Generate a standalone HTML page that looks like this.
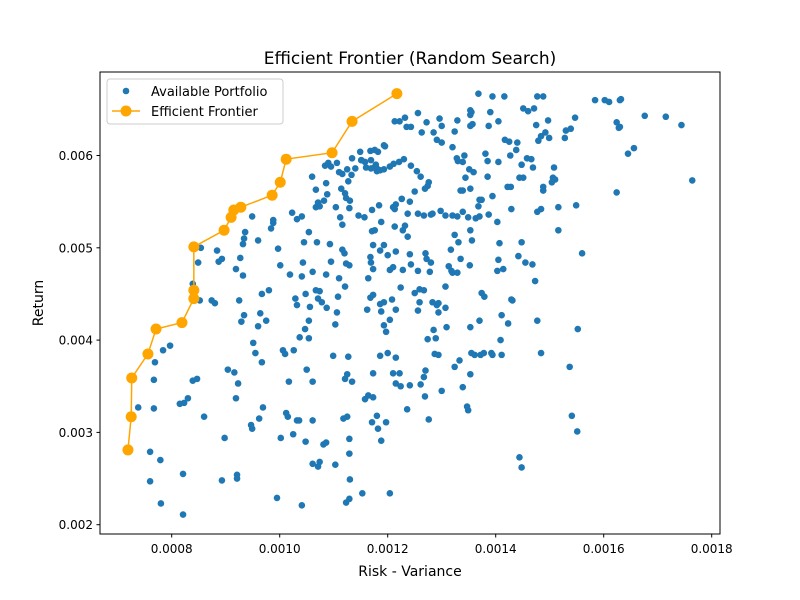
<!DOCTYPE html>
<html><head><meta charset="utf-8"><style>
body{margin:0;background:#fff;}
svg{display:block;font-family:"DejaVu Sans","Liberation Sans",sans-serif;}
</style></head><body>
<svg id="chart" width="800" height="600">
<rect width="800" height="600" fill="#fff"/>
<text x="410" y="64" text-anchor="middle" font-size="17">Efficient Frontier (Random Search)</text>
<text x="410" y="576" text-anchor="middle" font-size="14">Risk - Variance</text>
<text x="0" y="0" transform="translate(43,303) rotate(-90)" text-anchor="middle" font-size="14">Return</text>
<g id="xticks"></g>
<g id="yticks"></g>
<g id="points"></g>
<g id="frontier"></g>
<rect x="100" y="72" width="620" height="462" fill="none" stroke="#000" stroke-width="1"/>
<g>
<rect x="107" y="79" width="176" height="45" rx="3" fill="#fff" fill-opacity="0.8" stroke="#ccc"/>
<circle cx="126" cy="91" r="3.3" fill="#1f77b4"/>
<text x="151" y="96" font-size="13">Available Portfolio</text>
<line x1="112" y1="111" x2="140" y2="111" stroke="#ffa500" stroke-width="1.5"/>
<circle cx="126" cy="111" r="5.5" fill="#ffa500"/>
<text x="151" y="116" font-size="13">Efficient Frontier</text>
</g>
</svg>
<script>
// units: risk in 1e-4, return in 1e-3
const xTicks=[8,10,12,14,16,18];
const xTickLabels=["0.0008","0.0010","0.0012","0.0014","0.0016","0.0018"];
const yTicks=[2,3,4,5,6];
const yTickLabels=["0.002","0.003","0.004","0.005","0.006"];
const frontierRisk=[7.19,7.25,7.26,7.56,7.71,8.19,8.41,8.41,8.41,8.97,9.10,9.15,9.28,9.86,10.01,10.12,10.97,11.34,12.17];
const frontierReturn=[2.81,3.17,3.59,3.85,4.12,4.19,4.45,4.54,5.01,5.19,5.33,5.41,5.44,5.57,5.71,5.96,6.03,6.37,6.67];
const riskVals=[7.38,7.60,7.60,7.79,7.80,8.21,8.21,7.67,7.67,7.69,7.84,7.97,8.15,8.23,8.30,8.39,8.47,8.60,8.52,8.39,8.49,8.54,8.74,8.80,8.84,8.87,8.93,8.98,9.04,8.93,9.21,9.21,9.19,9.23,9.16,9.29,9.34,9.25,9.32,9.27,9.19,9.34,9.32,9.36,9.49,9.60,9.51,9.55,9.67,9.60,9.64,9.67,9.80,9.75,9.62,9.69,9.49,9.47,9.95,9.84,9.88,9.88,9.97,10.01,10.06,10.10,10.17,10.15,10.12,10.02,10.25,10.32,10.36,10.41,10.48,10.61,10.71,10.74,10.81,10.86,10.61,10.61,10.50,10.26,10.37,10.47,10.54,10.54,10.56,10.48,10.32,10.29,10.19,10.41,10.43,10.61,10.67,10.74,10.71,10.78,10.87,10.86,10.95,10.93,10.69,10.45,10.54,10.32,10.23,10.41,10.67,10.71,10.74,10.82,10.88,10.86,10.60,10.67,10.84,10.90,10.95,11.06,11.10,11.16,11.14,11.27,11.21,11.23,11.30,11.04,11.12,11.29,11.16,11.16,11.20,11.23,11.10,11.21,11.29,11.08,11.06,11.03,10.99,11.27,11.25,11.21,11.34,11.25,11.18,11.29,11.29,11.03,11.30,11.53,11.29,11.23,12.04,11.97,11.88,11.82,11.64,11.73,11.73,11.80,11.71,11.58,11.86,12.00,12.15,12.22,12.10,12.15,12.24,12.41,12.36,12.61,12.67,12.70,12.76,12.87,12.94,12.85,13.09,12.91,12.94,12.83,12.94,12.89,12.74,13.07,13.07,13.20,13.18,13.29,13.13,13.35,13.17,13.52,13.53,13.55,13.61,13.53,13.72,13.92,13.94,14.11,14.09,13.70,13.79,13.74,14.11,14.29,14.23,14.31,14.05,14.03,14.14,14.07,14.03,14.29,14.42,14.48,14.55,14.73,14.77,14.84,14.68,14.77,14.84,14.44,14.51,14.88,14.88,15.06,15.16,15.16,15.49,15.60,15.52,15.37,15.41,15.51,14.44,14.48,13.49,13.47,13.78,13.39,13.33,13.24,12.69,13.00,12.56,12.59,12.50,12.59,12.67,12.78,12.80,12.72,12.56,12.70,12.41,12.43,12.28,12.10,12.04,12.24,12.08,11.93,11.86,11.88,11.93,12.04,12.15,11.97,11.62,11.68,11.73,11.64,11.73,11.69,11.68,11.73,11.76,11.93,11.86,12.00,12.15,12.13,12.28,12.32,12.37,12.56,12.37,12.67,12.80,12.98,12.83,13.07,13.20,13.29,13.39,13.63,13.70,13.87,13.53,13.49,13.56,13.31,13.24,13.70,13.74,13.68,13.39,13.53,13.94,14.22,14.28,13.85,14.05,13.85,13.81,13.39,13.30,13.28,13.59,13.51,13.35,13.44,13.53,13.53,13.68,13.94,14.16,14.05,13.90,13.87,14.51,14.60,14.71,14.77,14.88,14.75,14.84,14.92,14.99,14.79,14.97,15.30,15.39,15.28,15.47,14.58,14.66,14.69,14.48,14.40,14.38,14.25,14.17,14.27,15.08,15.04,15.10,15.84,16.10,16.30,16.32,16.24,16.30,16.28,16.45,16.56,16.76,17.15,17.44,17.64,16.24,16.02,12.56,12.72,12.96,13.00,13.24,13.29,13.55,13.53,13.57,13.42,13.20,13.00,12.91,12.85,12.63,12.35,12.22,12.32,12.43,12.13,11.95,11.93,11.82,11.76,11.68,11.49,11.34,11.51,11.58,11.69,11.78,11.80,11.75,11.60,11.51,11.40,11.33,11.25,11.69,11.80,11.86,11.93,12.04,12.11,12.21,12.30,12.43,12.54,12.61,12.76,12.74,12.69,12.50,12.26,12.15,12.10,12.13,12.26,12.41,11.84,11.71,11.57,11.46,11.88,11.71,11.53,11.51];
const returnVals=[3.27,2.79,2.47,2.7,2.23,2.11,2.55,3.26,3.57,3.76,3.89,3.94,3.31,3.32,3.37,3.56,3.58,3.17,4.43,4.61,4.84,5.0,4.43,4.4,4.97,4.85,4.88,2.94,3.68,2.48,2.54,2.5,3.37,3.53,3.65,4.2,4.27,4.43,4.7,4.89,4.77,5.1,5.04,5.17,5.34,5.08,3.97,3.86,3.76,4.15,4.29,4.5,4.54,4.21,3.15,3.27,3.04,3.08,2.29,5.21,5.27,5.3,4.99,4.81,3.89,3.85,3.55,3.17,3.21,2.94,2.98,3.13,3.13,2.21,2.9,2.66,2.63,2.68,2.87,2.89,3.13,3.55,3.68,3.89,4.03,4.12,4.02,4.21,4.36,4.5,4.38,4.45,4.71,4.69,4.84,4.74,4.54,4.53,4.45,4.41,4.35,4.71,4.85,5.04,5.06,5.06,5.17,5.31,5.38,5.34,5.44,5.49,5.45,5.51,5.58,5.7,5.77,5.63,5.89,5.92,5.88,5.92,5.82,5.8,5.64,5.72,5.59,5.54,5.51,5.44,5.33,5.43,5.25,4.98,4.94,4.83,4.67,4.58,4.81,4.47,4.3,4.17,3.83,3.82,3.63,3.58,3.55,3.17,3.15,2.93,2.77,2.65,2.49,2.34,2.28,2.24,2.34,3.11,2.91,3.04,3.4,3.38,3.64,3.18,3.11,3.36,3.83,3.86,3.81,3.64,3.64,3.53,3.5,3.51,3.25,3.52,3.6,3.67,3.14,3.85,3.84,4.11,4.14,4.38,4.4,4.41,4.3,4.02,4.01,4.35,4.58,4.73,4.75,4.73,4.8,4.88,4.98,4.81,4.14,3.86,3.84,3.63,3.84,3.86,3.84,3.84,4.0,4.21,4.47,4.51,4.27,4.44,4.18,4.43,4.87,4.75,4.77,5.05,5.28,5.42,4.91,5.06,4.84,4.64,4.21,3.86,4.82,5.39,5.42,5.76,5.76,5.62,5.66,5.76,5.44,5.19,5.46,4.94,4.12,3.71,3.18,3.01,2.73,2.62,3.24,3.28,3.86,3.49,3.78,3.71,3.39,3.45,4.32,4.41,4.51,4.55,4.54,4.74,4.84,4.88,4.75,4.94,4.93,4.82,4.76,4.79,4.76,4.57,4.44,4.41,4.39,4.31,4.16,4.22,4.33,4.09,4.33,4.46,4.49,4.67,4.77,4.84,4.9,5.03,5.19,5.03,4.97,4.92,4.96,5.23,5.19,5.24,5.37,5.37,5.12,5.35,5.36,5.4,5.37,5.35,5.35,5.34,5.39,5.32,5.34,5.36,5.19,5.33,5.08,5.06,5.14,5.52,5.52,5.45,5.62,5.64,5.56,5.66,5.66,5.77,5.93,5.94,6.02,5.93,5.94,5.97,5.82,5.85,5.62,5.76,6.32,6.44,6.67,6.64,6.64,6.37,6.47,6.32,6.51,6.48,6.51,6.64,6.64,6.33,6.21,6.25,6.19,6.16,6.38,6.27,6.29,6.19,6.41,5.97,5.96,5.87,5.9,6.14,6.06,6.15,6.17,6.0,5.87,5.71,5.74,6.6,6.58,6.6,6.61,6.36,6.31,6.3,6.02,6.08,6.43,6.42,6.33,5.73,5.6,6.6,6.46,6.36,6.4,6.32,6.26,6.38,6.47,6.49,6.34,6.0,6.09,6.14,6.17,6.25,6.25,6.31,6.37,6.41,6.31,6.37,6.1,6.11,6.04,6.06,6.05,6.04,5.97,5.95,5.93,5.95,5.9,5.86,5.87,5.87,5.95,5.86,5.79,5.85,5.86,5.83,5.84,5.85,5.88,5.91,5.93,5.96,5.89,5.83,5.77,5.71,5.67,5.64,5.61,5.53,5.47,5.44,5.42,5.53,5.5,5.46,5.41,5.33,5.35,5.28,5.18];

const NS="http://www.w3.org/2000/svg";
function xs(v){return 171.7+(v-8)*54;}
function ys(v){return 524.7-(v-2)*92.3;}
function mk(tag,attrs,parent){const e=document.createElementNS(NS,tag);for(const k in attrs)e.setAttribute(k,attrs[k]);parent.appendChild(e);return e;}

const xg=document.getElementById('xticks');
xTicks.forEach((t,i)=>{
  const l=mk('line',{x1:xs(t),x2:xs(t),y1:534,y2:537.5,stroke:'#000'},xg);
  
  
  const tx=mk('text',{x:xs(t),y:553,'text-anchor':'middle','font-size':'12'},xg);
  tx.textContent=xTickLabels[i];
  
  
});
const yg=document.getElementById('yticks');
yTicks.forEach((t,i)=>{
  const l=mk('line',{x1:96.5,x2:100,y1:ys(t),y2:ys(t),stroke:'#000'},yg);
  
  
  const tx=mk('text',{x:93,y:ys(t)+4.5,'text-anchor':'end','font-size':'12'},yg);
  tx.textContent=yTickLabels[i];
  
  
});
const pg=document.getElementById('points');
const n=Math.min(riskVals.length,returnVals.length);
for(let i=0;i<n;i++){
  const c=mk('circle',{cx:xs(riskVals[i]),cy:ys(returnVals[i]),r:3.3,fill:'#1f77b4'},pg);
  
  
}
const fg=document.getElementById('frontier');
const pts=frontierRisk.map((r,i)=>xs(r)+','+ys(frontierReturn[i])).join(' ');
const pl=mk('polyline',{points:pts,fill:'none',stroke:'#ffa500','stroke-width':1.5},fg);


frontierRisk.forEach((r,i)=>{
  const c=mk('circle',{cx:xs(r),cy:ys(frontierReturn[i]),r:5.5,fill:'#ffa500'},fg);
  
  
});
</script>
</body></html>
